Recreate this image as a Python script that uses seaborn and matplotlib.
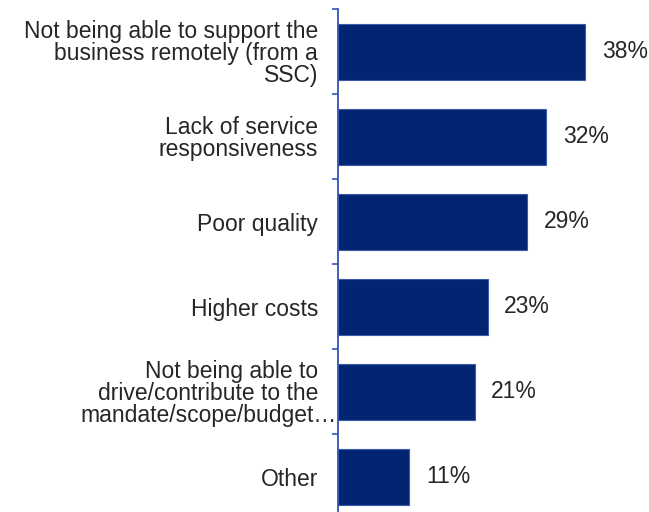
import matplotlib
matplotlib.use("Agg")
import matplotlib.pyplot as plt
import matplotlib.transforms as mtransforms
from matplotlib.font_manager import FontProperties
import seaborn as sns
import pandas as pd
import numpy as np

# Reasons for dissatisfaction, share of respondents (%)
categories = [
    "Not being able to support the\nbusiness remotely (from a\nSSC)",
    "Lack of service\nresponsiveness",
    "Poor quality",
    "Higher costs",
    "Not being able to\ndrive/contribute to the\nmandate/scope/budget\u2026",
    "Other",
]
values = [38, 32, 29, 23, 21, 11]
value_labels = ["38%", "32%", "29%", "23%", "21%", "11%"]

df = pd.DataFrame({"reason": categories, "share": values})

sns.set_theme(style="white")
plt.rcParams["font.family"] = ["Liberation Sans", "DejaVu Sans"]

BAR = "#022572"
SPINE = "#3455b0"
TEXT = "#262626"
FS = 16.5
PAD = 14          # gap between axis and category labels, points
LINE_PX = 22.0    # distance between text baselines, pixels

fig = plt.figure(figsize=(6.49, 5.12), dpi=100)
ax = fig.add_axes([0.5203, -0.01426, 0.4521, 0.99606])

# line spacing factor giving LINE_PX between baselines
renderer = fig.canvas.get_renderer()
fp = FontProperties(family=["Liberation Sans"], size=FS)
_, lp_h, lp_d = renderer.get_text_width_height_descent("lp", fp, ismath=False)
asc = lp_h - lp_d
LS = (LINE_PX - lp_d) / asc

sns.barplot(data=df, x="share", y="reason", orient="h", color=BAR,
            saturation=1, width=0.66, edgecolor="#3a5ab0", linewidth=0.8, ax=ax)

ax.set_xlim(0, 45)
ax.set_ylim(len(categories) - 0.5, -0.5)
ax.set_xlabel("")
ax.set_ylabel("")
ax.set_xticks([])

for s in ["top", "right", "bottom"]:
    ax.spines[s].set_visible(False)
ax.spines["left"].set_color(SPINE)
ax.spines["left"].set_linewidth(1.3)

# Category labels. A wrapped label whose last line is cut with an ellipsis
# keeps that last line wider than the text box, reaching the axis.
tick_labels = []
overflow = {}
for i, c in enumerate(categories):
    lines = c.split("\n")
    if lines[-1].endswith("\u2026"):
        tick_labels.append("")
        overflow[i] = lines
    else:
        tick_labels.append(c)

ax.set_yticks(range(len(categories)))
ax.set_yticklabels(tick_labels, fontsize=FS, color=TEXT, linespacing=LS)
ax.tick_params(axis="y", which="major", length=0, pad=PAD)
ax.set_yticks(np.arange(-0.5, len(categories), 1.0), minor=True)
ax.tick_params(axis="y", which="minor", length=4.5, width=1.2, color=SPINE, left=True)

ytrans = ax.get_yaxis_transform()
dpi = fig.dpi
for i, lines in overflow.items():
    n = len(lines)
    # first baseline sits where a tick label of n lines would put it
    first_up = ((n - 2) * LINE_PX + lp_d) / 2.0
    head = "\n".join(lines[:-1])
    t_head = ytrans + mtransforms.ScaledTranslation(-PAD / 72, (first_up + asc) / dpi,
                                                    fig.dpi_scale_trans)
    ax.text(0, i, head, transform=t_head, ha="right", va="top",
            fontsize=FS, color=TEXT, linespacing=LS)
    last_up = first_up - (n - 1) * LINE_PX
    t_last = ytrans + mtransforms.ScaledTranslation(-1.0 / dpi, last_up / dpi,
                                                    fig.dpi_scale_trans)
    ax.text(0, i, lines[-1], transform=t_last, ha="right", va="baseline",
            fontsize=FS, color=TEXT)

# value labels
for i, (v, lab) in enumerate(zip(values, value_labels)):
    ax.annotate(lab, xy=(v, i), xytext=(12, 0), textcoords="offset points",
                ha="left", va="center", fontsize=FS, color=TEXT)

fig.savefig("out.png", dpi=100)
